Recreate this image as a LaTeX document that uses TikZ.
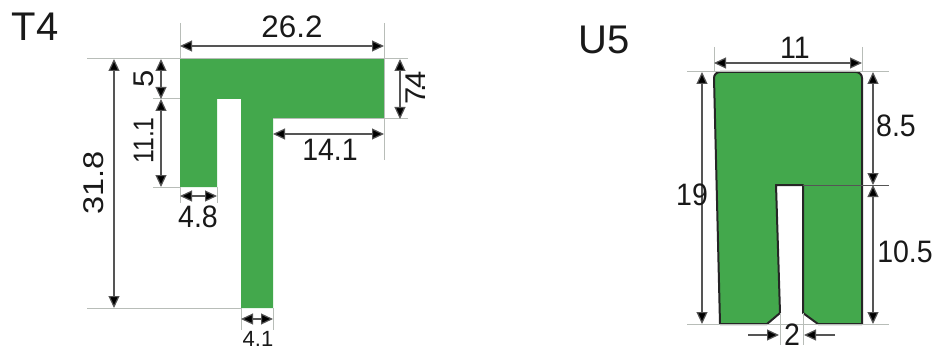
\documentclass[tikz,border=0pt]{standalone}
\usepackage{fontspec}
\setmainfont{Liberation Sans}
\usetikzlibrary{arrows.meta}
\definecolor{pgreen}{HTML}{43A84C}
\definecolor{extc}{HTML}{B8BDB8}
\definecolor{dimc}{HTML}{555555}
\tikzset{
  x=1pt,y=-1pt,
  part/.style={fill=pgreen},
  partline/.style={fill=pgreen,draw=black!85,line width=2pt,line join=round},
  ext/.style={draw=extc,line width=1pt},
  dimline/.style={draw=dimc,line width=1.2pt,{Triangle[length=12pt,width=11pt,fill=black]}-{Triangle[length=12pt,width=11pt,fill=black]}},
  dimshort/.style={draw=dimc,line width=1.2pt,-{Triangle[length=12pt,width=11pt,fill=black]}},
  lab/.style={font=\fontsize{31}{31}\selectfont,inner sep=0pt,text=black!90,xscale=.92},
  sublab/.style={font=\fontsize{22}{22}\selectfont,inner sep=0pt,text=black!90},
  title/.style={font=\fontsize{40}{40}\selectfont,inner sep=0pt,text=black!90},
}
\begin{document}
\begin{tikzpicture}
\useasboundingbox (0,0) rectangle (936,350);
% T4 shape
\fill[part] (180,59) -- (384,59) -- (384,119) -- (273,119) -- (273,308) -- (241,308) -- (241,99) -- (217,99) -- (217,187) -- (180,187) -- cycle;
% U5 shape
\path[partline] (720,72) -- (856,72) to[out=0,in=90] (862,78) -- (862,324) -- (818,324) -- (803,313) -- (803,185) -- (776,185) -- (780,313) -- (767,324) -- (720,324) -- (714,78) to[out=90,in=180] (720,72) -- cycle;
% T4 coordinates
\coordinate (ta) at (180,23); \coordinate (tb) at (180,59);
\coordinate (tc) at (384,23); \coordinate (td) at (384,160);
\coordinate (te) at (87,59); \coordinate (tf) at (408,59);
\coordinate (tg) at (153,99); \coordinate (th) at (180,99);
\coordinate (ti) at (153,187); \coordinate (tj) at (180,187);
\coordinate (tk) at (87,308); \coordinate (tl) at (241,308);
\coordinate (tm) at (273,119); \coordinate (tn) at (408,119);
\coordinate (to1) at (180,203); \coordinate (tp) at (217,187); \coordinate (tq) at (217,203);
\coordinate (tr) at (241,330); \coordinate (ts) at (273,308); \coordinate (tt) at (273,330);
\draw[ext] (ta) -- (tb);
\draw[ext] (tc) -- (td);
\draw[ext] (te) -- (tf);
\draw[ext] (tg) -- (th);
\draw[ext] (ti) -- (tj);
\draw[ext] (tk) -- (tl);
\draw[ext] (tm) -- (tn);
\draw[ext] (tj) -- (to1);
\draw[ext] (tp) -- (tq);
\draw[ext] (tl) -- (tr);
\draw[ext] (ts) -- (tt);
% T4 dimensions
\coordinate (d1a) at (180,46); \coordinate (d1b) at (384,46);
\coordinate (d2a) at (114,59); \coordinate (d2b) at (114,308);
\coordinate (d3a) at (161,59); \coordinate (d3b) at (161,99); \coordinate (d3c) at (161,187);
\coordinate (d4a) at (400,59); \coordinate (d4b) at (400,119);
\coordinate (d5a) at (273,134); \coordinate (d5b) at (384,134);
\coordinate (d6a) at (180,196); \coordinate (d6b) at (217,196);
\coordinate (d7a) at (241,319); \coordinate (d7b) at (273,319);
\draw[dimline] (d1a) -- (d1b);
\draw[dimline] (d2a) -- (d2b);
\draw[dimline] (d3a) -- (d3b);
\draw[dimline] (d3b) -- (d3c);
\draw[dimline] (d4a) -- (d4b);
\draw[dimline] (d5a) -- (d5b);
\draw[dimline] (d6a) -- (d6b);
\draw[dimline] (d7a) -- (d7b);
\node[title] (t4) at (35,27) {T4};
\node[lab,xscale=1.1] (l262) at (292,26.5) {26.2};
\node[lab,rotate=90,xscale=1.05] (l318) at (93.5,183) {31.8};
\node[lab,rotate=90] (l5) at (143.5,79) {5};
\node[lab,rotate=90,xscale=.8] (l111) at (143.5,140.5) {11.1};
\node[lab,rotate=90] (l74) at (416,88) {7\kern-5pt.\kern-5pt4};
\node[lab] (l141) at (330,150) {14.1};
\node[lab] (l48) at (198,217) {4.8};
\node[sublab] (l41) at (258,339) {4.1};
% U5 coordinates
\coordinate (ua) at (714,47); \coordinate (ub) at (714,72);
\coordinate (uc) at (862,47); \coordinate (ud) at (862,72);
\coordinate (ue) at (687,72); \coordinate (uf) at (889,72);
\coordinate (ug) at (803,185); \coordinate (uh) at (889,185);
\coordinate (ui) at (687,324); \coordinate (uj) at (889,324);
\coordinate (uk) at (780,313); \coordinate (ul) at (780,345);
\coordinate (um) at (803,313); \coordinate (un) at (803,345);
\draw[ext] (ua) -- (ub);
\draw[ext] (uc) -- (ud);
\draw[ext] (ue) -- (uf);
\draw[draw=dimc,line width=.8pt] (ug) -- (uh);
\draw[ext] (ui) -- (uj);
\draw[ext] (uk) -- (ul);
\draw[ext] (um) -- (un);
% U5 dimensions
\coordinate (e1a) at (714,63); \coordinate (e1b) at (862,63);
\coordinate (e2a) at (702,72); \coordinate (e2b) at (702,324);
\coordinate (e3a) at (873,72); \coordinate (e3b) at (873,185); \coordinate (e3c) at (873,324);
\coordinate (e4a) at (748,335); \coordinate (e4b) at (779,335);
\coordinate (e5a) at (835,335); \coordinate (e5b) at (804,335);
\draw[dimline] (e1a) -- (e1b);
\draw[dimline] (e2a) -- (e2b);
\draw[dimline] (e3a) -- (e3b);
\draw[dimline] (e3b) -- (e3c);
\draw[dimshort] (e4a) -- (e4b);
\draw[dimshort] (e5a) -- (e5b);
\node[title] (u5) at (604,40) {U5};
\node[lab] (l11) at (795,48) {11};
\node[lab] (l19) at (692,195) {19};
\node[lab] (l85) at (896,126) {8.5};
\node[lab] (l105) at (905,252) {10.5};
\node[lab] (l2) at (792,335) {2};
\end{tikzpicture}
\end{document}
